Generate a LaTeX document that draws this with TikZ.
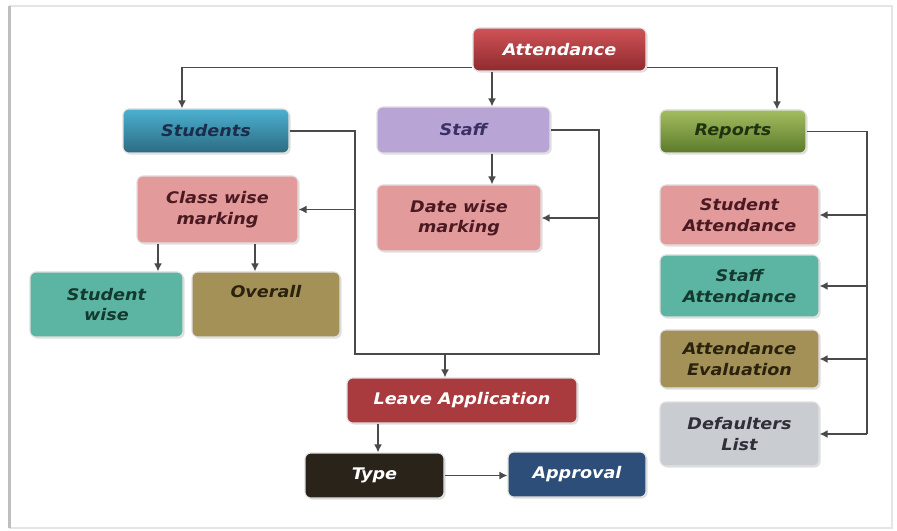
\documentclass[tikz,border=0pt]{standalone}
\usepackage{fontspec}
\setmainfont{DejaVu Sans}[FakeStretch=1.1]
\usetikzlibrary{arrows.meta,calc,shadows}
\definecolor{linec}{HTML}{4A4A4A}
\definecolor{attT}{HTML}{D05357}
\definecolor{attB}{HTML}{8E2A2E}
\definecolor{stuT}{HTML}{4CB0D0}
\definecolor{stuB}{HTML}{2C6B82}
\definecolor{stut}{HTML}{1A2D4A}
\definecolor{repT}{HTML}{A3BD5F}
\definecolor{repB}{HTML}{5C7A2A}
\definecolor{rept}{HTML}{1F3310}
\definecolor{pinkf}{HTML}{E39A9A}
\definecolor{pinkt}{HTML}{4A1A22}
\definecolor{tealf}{HTML}{5CB5A3}
\definecolor{tealt}{HTML}{143A30}
\definecolor{olivef}{HTML}{A39158}
\definecolor{olivet}{HTML}{2A220C}
\definecolor{grayf}{HTML}{C9CCD1}
\definecolor{grayt}{HTML}{30303A}
\definecolor{leavef}{HTML}{A93B3E}
\definecolor{typef}{HTML}{29231A}
\definecolor{apprf}{HTML}{2C4E78}
\definecolor{stafff}{HTML}{B8A5D6}
\definecolor{stafft}{HTML}{3B2F64}
\begin{document}
\begin{tikzpicture}[x=0.75pt,y=-0.75pt,
  box/.style={rectangle, rounded corners=4.5pt, draw=black!12, line width=0.8pt,
    font=\fontsize{12}{15.5}\selectfont\bfseries\itshape, align=center,
    inner sep=2pt, drop shadow={opacity=0.25, shadow xshift=1.2pt, shadow yshift=-1.2pt}},
  line/.style={draw=linec, line width=1.2pt},
  conn/.style={line, -{Latex[length=6pt,width=6pt]}}]
\useasboundingbox (0,0) rectangle (897,531);
\fill[white] (0,0) rectangle (897,531);
\draw[black!10, line width=1.2pt] (10,6) rectangle (892,528);
\draw[black!25, line width=2.4pt] (9.5,6) -- (9.5,528);
% nodes
\node[box, top color=attT, bottom color=attB, text=white, minimum width=129.75pt, minimum height=32.25pt] (att) at (559.5,49.5) {Attendance};
\node[box, top color=stuT, bottom color=stuB, text=stut, minimum width=124.5pt, minimum height=33pt] (stu) at (206,131) {Students};
\node[box, fill=stafff, text=stafft, minimum width=129.75pt, minimum height=34.5pt] (staff) at (463.5,130) {Staff};
\node[box, top color=repT, bottom color=repB, text=rept, minimum width=109.5pt, minimum height=32.25pt] (rep) at (733,131.5) {Reports};
\node[box, fill=pinkf, text=pinkt, minimum width=120.75pt, minimum height=50.25pt] (cls) at (217.5,209.5) {Class wise\\marking};
\node[box, fill=pinkf, text=pinkt, minimum width=123pt, minimum height=49.5pt] (date) at (459,218) {Date wise\\marking};
\node[box, fill=tealf, text=tealt, minimum width=114.75pt, minimum height=48.75pt] (sw) at (106.5,304.5) {Student\\wise};
\node[box, fill=olivef, text=olivet, minimum width=111pt, minimum height=48.75pt] (ov) at (266,304.5) {Overall\\ \strut};
\node[box, fill=leavef, text=white, minimum width=172.5pt, minimum height=33.75pt] (leave) at (462,400.5) {Leave Application};
\node[box, fill=typef, text=white, minimum width=104.25pt, minimum height=33.75pt] (type) at (374.5,475.5) {Type};
\node[box, fill=apprf, text=white, minimum width=103.5pt, minimum height=33.75pt] (appr) at (577,474.5) {Approval};
\node[box, fill=pinkf, text=pinkt, minimum width=119.25pt, minimum height=45pt] (sa) at (739.5,215) {Student\\Attendance};
\node[box, fill=tealf, text=tealt, minimum width=119.25pt, minimum height=46.5pt] (sta) at (739.5,286) {Staff\\Attendance};
\node[box, fill=olivef, text=olivet, minimum width=119.25pt, minimum height=43.5pt] (ae) at (739.5,359) {Attendance\\Evaluation};
\node[box, fill=grayf, text=grayt, minimum width=119.25pt, minimum height=48pt] (dl) at (739.5,434) {Defaulters\\List};
% helper coordinates
\coordinate (sx) at (492,0);
\coordinate (lj) at (355,354);
\coordinate (rj) at (599,354);
\coordinate (lx) at (445,354);
\coordinate (rx) at (867,0);
% connectors
\draw[conn] ($(att.south west)+(0,-4)$) -| ($(stu.north)+(-24,0)$);
\draw[conn] ($(att.south east)+(0,-4)$) -| ($(rep.north)+(44,0)$);
\draw[conn] (att.south -| sx) -- (staff.north -| sx);
\draw[conn] (staff.south -| sx) -- (date.north -| sx);
\draw[line] (stu.east) -| (lj) -- (rj) |- (staff.east);
\draw[conn] (cls.east -| lj) -- (cls.east);
\draw[conn] (date.east -| rj) -- (date.east);
\draw[conn] (lx) -- (leave.north -| lx);
\draw[conn] ($(leave.south)+(-84,0)$) coordinate (tx) -- (type.north -| tx);
\draw[conn] (type.east) -- (appr.west |- type.east);
\draw[conn] ($(cls.south)+(-59.5,0)$) coordinate (c1) -- (sw.north -| c1);
\draw[conn] ($(cls.south)+(37.5,0)$) coordinate (c2) -- (ov.north -| c2);
\draw[line] (rep.east) -| (dl.east -| rx);
\draw[conn] (sa.east -| rx) -- (sa.east);
\draw[conn] (sta.east -| rx) -- (sta.east);
\draw[conn] (ae.east -| rx) -- (ae.east);
\draw[conn] (dl.east -| rx) -- (dl.east);
\end{tikzpicture}
\end{document}
